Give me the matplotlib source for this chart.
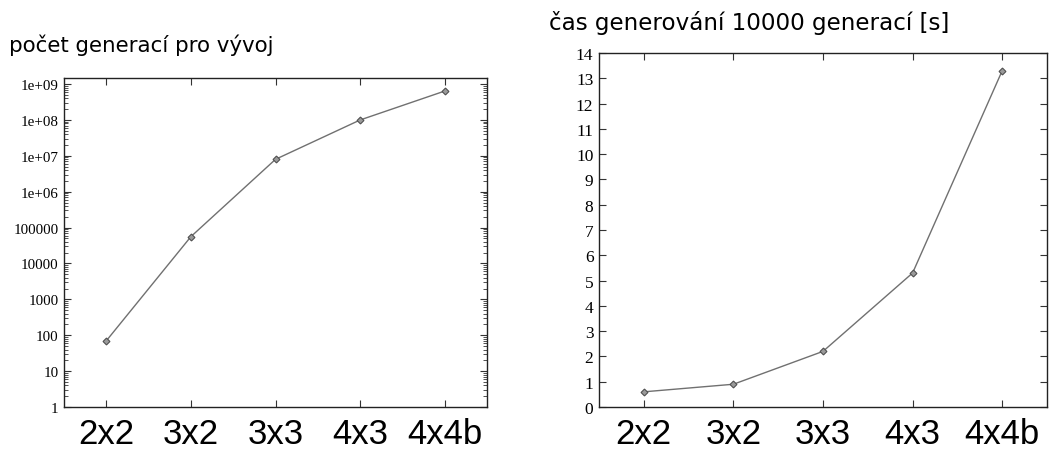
import matplotlib
matplotlib.use("Agg")
import matplotlib.pyplot as plt
from matplotlib.ticker import FixedLocator, FixedFormatter, LogLocator, NullFormatter

categories = ["2x2", "3x2", "3x3", "4x3", "4x4b"]
generations = [70, 56000, 8.0e6, 1.0e8, 6.4e8]
times_s = [0.6, 0.9, 2.2, 5.3, 13.3]
left_title = "počet generací pro vývoj"
right_title = "čas generování 10000 generací [s]"
log_ticks = [1, 10, 100, 1000, 10000, 100000, 1e6, 1e7, 1e8, 1e9]
log_tick_labels = ["1", "10", "100", "1000", "10000", "100000", "1e+06", "1e+07", "1e+08", "1e+09"]
lin_ticks = list(range(0, 15))

W, H = 1056, 452
fig = plt.figure(figsize=(W / 100, H / 100), dpi=100)

def frac(l, t, r, b):
    return [l / W, (H - b) / H, (r - l) / W, (b - t) / H]

ax1 = fig.add_axes(frac(64, 79, 487, 408))
ax2 = fig.add_axes(frac(599, 54, 1047, 408))

line_kw = dict(color="#707070", lw=1.0, marker="D", ms=3.5,
               mfc="#9a9a9a", mec="#505050", mew=0.8)
x = list(range(len(categories)))

ax1.plot(x, generations, **line_kw)
ax1.set_yscale("log")
ax1.set_ylim(1, 10 ** 9.17)
ax1.yaxis.set_major_locator(FixedLocator(log_ticks))
ax1.yaxis.set_major_formatter(FixedFormatter(log_tick_labels))
ax1.yaxis.set_minor_locator(LogLocator(base=10, subs=(2, 3, 4, 5, 6, 7, 8, 9), numticks=20))
ax1.yaxis.set_minor_formatter(NullFormatter())

ax2.plot(x, times_s, **line_kw)
ax2.set_ylim(0, 14)
ax2.set_yticks(lin_ticks)
ax2.set_yticklabels([str(v) for v in lin_ticks])

for ax, fs in ((ax1, 10.8), (ax2, 12.5)):
    ax.set_xlim(-0.5, 4.5)
    ax.set_xticks(x)
    ax.set_xticklabels(categories, fontfamily="Liberation Sans", fontsize=25)
    for s in ax.spines.values():
        s.set_color("#222222")
        s.set_linewidth(1.0)
    ax.tick_params(axis="both", which="major", direction="in", length=5, width=0.8,
                   top=True, right=True, color="#333333")
    ax.tick_params(axis="both", which="minor", direction="in", length=3, width=0.6,
                   top=True, right=True, color="#333333")
    ax.tick_params(axis="x", pad=7)
    ax.tick_params(axis="y", pad=4)
    for lab in ax.get_yticklabels():
        lab.set_fontfamily("Liberation Serif")
        lab.set_fontsize(fs)

fig.text(9 / W, 1 - 45 / H, left_title, fontfamily="DejaVu Sans", fontsize=15.4,
         va="center", ha="left")
fig.text(549 / W, 1 - 23 / H, right_title, fontfamily="DejaVu Sans", fontsize=16.6,
         va="center", ha="left")

fig.savefig("out.png", dpi=100)
